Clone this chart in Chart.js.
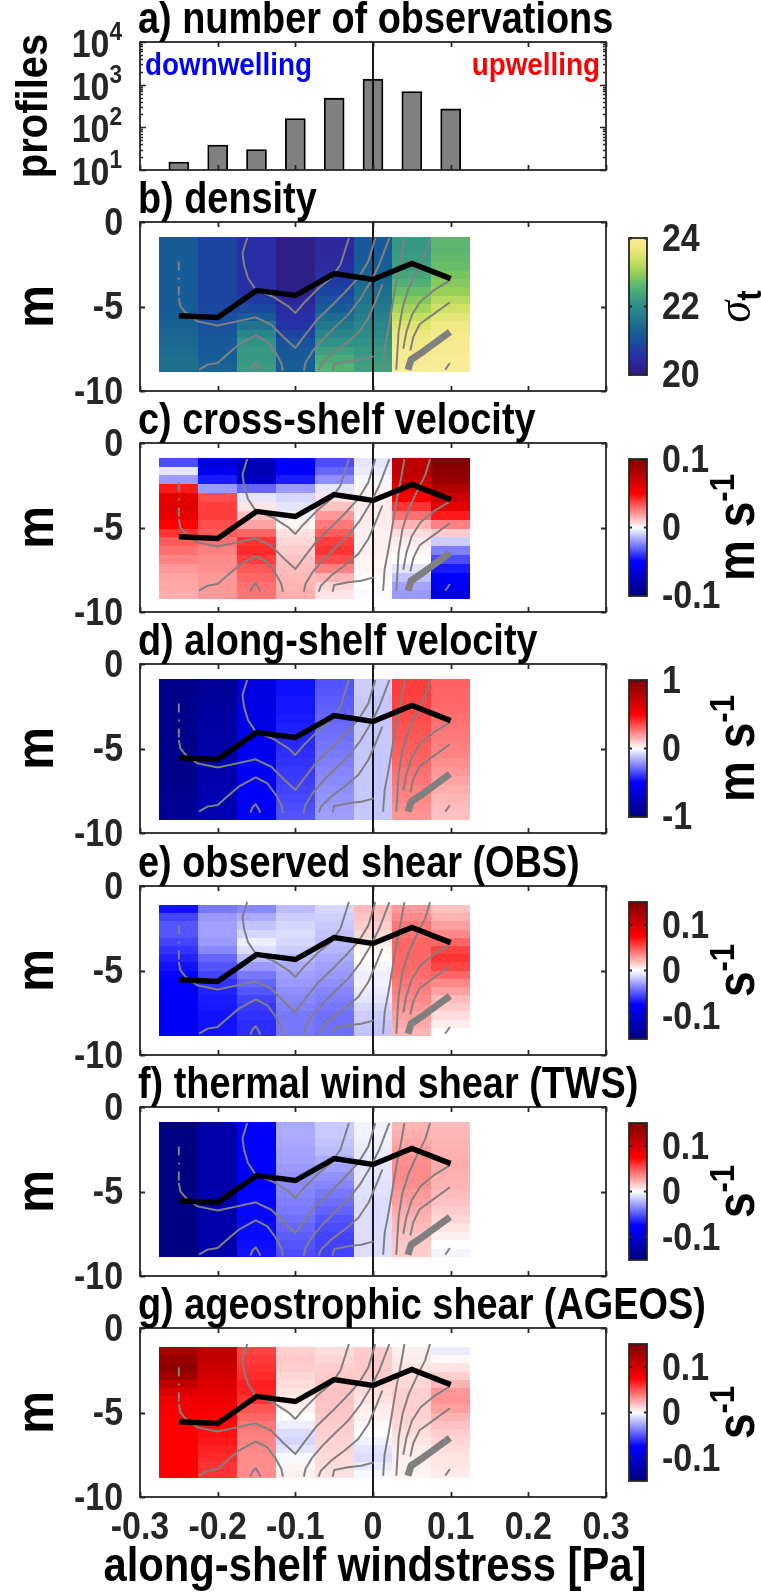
<!DOCTYPE html>
<html><head><meta charset="utf-8">
<script src="https://cdn.jsdelivr.net/npm/chart.js@4.4.1/dist/chart.umd.min.js"></script>
<style>html,body{margin:0;padding:0;background:#fff}#wrap{position:relative;width:761px;height:1593px;overflow:hidden;background:#fff}canvas{position:absolute;left:0}</style>
</head><body><div id="wrap"></div>
<script>
// ---------------- data ----------------
const windBins = [-0.25,-0.2,-0.15,-0.1,-0.05,0,0.05,0.1];
const binHalfWidth = 0.025;
const xTickValues = [-0.3,-0.2,-0.1,0,0.1,0.2,0.3];
const xTickLabels = ['-0.3','-0.2','-0.1','0','0.1','0.2','0.3'];
const depthTickValues = [0,-5,-10];
const depthTickLabels = ['0','-5','-10'];
const profileCounts = [15.4,38.6,30,160,482,1346,689,270];
const logTickValues = [10,100,1000,10000];
const logTickExponents = ['1','2','3','4'];
const mixedLayerDepth = [-5.55,-5.65,-4.05,-4.35,-3.05,-3.4,-2.45,-3.35];

// isopycnal contours [x, depth]
const isoA = [[-0.162,-0.95],[-0.168,-1.83],[-0.166,-2.53],[-0.161,-3.31],[-0.151,-4.0],[-0.127,-4.46],[-0.109,-4.99],[-0.1,-5.38],[-0.089,-4.79],[-0.072,-4.0],[-0.054,-3.31],[-0.042,-2.53],[-0.031,-0.95]];
const isoBdash = [[-0.25,-2.33],[-0.25,-4.5]];
const isoB = [[-0.25,-4.5],[-0.248,-4.99],[-0.241,-5.38],[-0.226,-5.88],[-0.2,-6.13],[-0.175,-5.88],[-0.151,-5.64],[-0.131,-6.08],[-0.114,-6.86],[-0.1,-7.46],[-0.087,-6.67],[-0.072,-5.78],[-0.054,-4.99],[-0.037,-4.2],[-0.019,-3.31],[-0.006,-2.33],[0.003,-0.95]];
const isoC = [[-0.224,-8.74],[-0.213,-8.44],[-0.2,-8.34],[-0.188,-7.85],[-0.173,-7.26],[-0.151,-6.71],[-0.136,-7.06],[-0.125,-7.75],[-0.118,-8.34],[-0.116,-8.8]];
const isoD = [[-0.158,-8.8],[-0.155,-8.48],[-0.151,-8.3],[-0.147,-8.6],[-0.145,-8.8]];
const isoE = [[-0.089,-8.8],[-0.087,-8.34],[-0.078,-7.65],[-0.065,-6.96],[-0.05,-6.27],[-0.032,-5.48],[-0.017,-4.6],[-0.004,-3.61],[0.008,-2.53],[0.021,-0.95]];
const isoF = [[-0.07,-8.8],[-0.067,-8.44],[-0.054,-7.85],[-0.037,-7.26],[-0.019,-6.57],[-0.006,-5.68],[0.005,-4.5],[0.012,-3.7]];
const isoG = [[-0.052,-8.8],[-0.05,-8.4],[-0.032,-8.24],[-0.015,-8.15],[0.001,-7.95]];
const isoR1 = [[0.0405,-0.95],[0.036,-2.13],[0.03,-3.51],[0.025,-4.89],[0.02,-6.27],[0.015,-7.46],[0.013,-8.74]];
const isoR2 = [[0.0735,-0.95],[0.067,-1.93],[0.056,-2.92],[0.046,-3.91],[0.038,-5.09],[0.033,-6.47],[0.03,-8.74]];
const isoR3 = [[0.099,-3.45],[0.078,-4.05],[0.061,-4.7],[0.05,-5.5],[0.043,-6.5],[0.039,-7.5]];
const isoR4 = [[0.099,-4.75],[0.078,-5.45],[0.06,-6.05],[0.052,-6.8],[0.048,-7.6]];
const isoS = [[0.093,-8.74],[0.099,-8.34]];
const thickIso = [[0.045,-8.74],[0.049,-8.15],[0.065,-7.65],[0.099,-6.51]];

// gridded fields: one array per wind bin, top row first
const densityCols = [
 [21.2,21.2,21.2,21.2,21.2,21.2,21.2,21.2,21.2,21.25,21.3,21.35,21.4,21.45,21.5,21.5],
 [20.85,20.85,20.85,20.85,20.85,20.85,20.85,20.85,20.9,20.95,21.0,21.1,21.15,21.2,21.25,21.3],
 [20.5,20.5,20.5,20.5,20.5,20.5,20.5,20.7,20.9,21.2,21.6,21.9,22.1,22.2,22.2,22.25],
 [20.1,20.1,20.1,20.1,20.1,20.1,20.2,20.35,20.45,20.5,20.6,20.85,21.05,21.15,21.2,21.25],
 [20.4,20.4,20.4,20.45,20.55,20.7,20.85,21.0,21.2,21.45,21.7,21.9,22.1,22.3,22.45,22.55],
 [21.15,21.15,21.2,21.25,21.3,21.4,21.5,21.6,21.7,21.8,21.9,22.0,22.1,22.2,22.25,22.3],
 [22.2,22.2,22.25,22.3,22.4,22.5,22.7,22.9,23.1,23.3,23.5,23.7,23.8,23.9,23.95,24.0],
 [22.6,22.6,22.65,22.7,22.8,22.9,23.0,23.2,23.4,23.6,23.75,23.85,23.9,23.95,24.0,24.0]
];
const crossShelfCols = [
 [-0.035,-0.005,-0.02,0.045,0.06,0.062,0.058,0.05,0.04,0.032,0.028,0.024,0.02,0.018,0.017,0.016],
 [-0.065,-0.055,-0.045,-0.02,0.035,0.038,0.038,0.035,0.032,0.028,0.025,0.023,0.022,0.02,0.02,0.02],
 [-0.08,-0.078,-0.072,-0.03,-0.005,0.005,0.012,0.018,0.03,0.04,0.042,0.038,0.033,0.03,0.028,0.027],
 [-0.05,-0.05,-0.045,-0.02,-0.008,-0.005,-0.003,0.002,0.006,0.008,0.01,0.012,0.013,0.014,0.015,0.016],
 [-0.035,-0.03,-0.022,-0.005,0.005,0.012,0.02,0.026,0.032,0.038,0.04,0.035,0.025,0.015,0.008,0.005],
 [-0.005,-0.004,-0.002,0.002,0.003,0.004,0.004,0.004,0.003,0.003,0.003,0.002,0.002,0.001,0.0,-0.001],
 [0.076,0.075,0.072,0.062,0.05,0.04,0.028,0.015,0.007,0.004,0.002,0.0,-0.005,-0.012,-0.018,-0.02],
 [0.098,0.095,0.09,0.08,0.07,0.06,0.045,0.025,0.01,-0.01,-0.025,-0.035,-0.045,-0.05,-0.055,-0.06]
];
const alongShelfCols = [
 [-0.95,-0.95,-0.95,-0.95,-0.95,-0.95,-0.95,-0.95,-0.95,-0.95,-0.95,-0.95,-0.93,-0.92,-0.91,-0.9],
 [-0.9,-0.9,-0.89,-0.88,-0.87,-0.86,-0.85,-0.85,-0.84,-0.83,-0.82,-0.82,-0.81,-0.8,-0.8,-0.8],
 [-0.62,-0.62,-0.61,-0.6,-0.6,-0.59,-0.58,-0.57,-0.56,-0.55,-0.54,-0.53,-0.52,-0.51,-0.5,-0.5],
 [-0.47,-0.47,-0.46,-0.46,-0.45,-0.44,-0.43,-0.42,-0.41,-0.4,-0.39,-0.38,-0.37,-0.36,-0.35,-0.34],
 [-0.34,-0.33,-0.32,-0.31,-0.3,-0.29,-0.28,-0.27,-0.26,-0.25,-0.24,-0.23,-0.22,-0.21,-0.2,-0.19],
 [-0.1,-0.1,-0.11,-0.11,-0.11,-0.11,-0.11,-0.11,-0.11,-0.11,-0.11,-0.11,-0.11,-0.11,-0.11,-0.11],
 [0.38,0.38,0.37,0.36,0.35,0.34,0.33,0.32,0.31,0.3,0.28,0.27,0.25,0.24,0.22,0.21],
 [0.31,0.3,0.3,0.29,0.28,0.27,0.26,0.25,0.24,0.22,0.2,0.18,0.16,0.14,0.13,0.12]
];
const obsShearCols = [
 [-0.07,-0.055,-0.05,-0.05,-0.055,-0.06,-0.065,-0.07,-0.074,-0.076,-0.078,-0.078,-0.079,-0.08,-0.08,-0.08],
 [-0.04,-0.03,-0.028,-0.028,-0.03,-0.035,-0.045,-0.05,-0.055,-0.06,-0.065,-0.067,-0.068,-0.07,-0.07,-0.07],
 [-0.035,-0.025,-0.018,-0.012,-0.005,-0.01,-0.02,-0.03,-0.04,-0.045,-0.05,-0.055,-0.058,-0.06,-0.062,-0.062],
 [-0.02,-0.015,-0.012,-0.01,-0.012,-0.015,-0.02,-0.025,-0.028,-0.03,-0.033,-0.035,-0.037,-0.04,-0.04,-0.04],
 [-0.012,-0.014,-0.016,-0.018,-0.02,-0.022,-0.025,-0.028,-0.03,-0.033,-0.036,-0.038,-0.04,-0.042,-0.042,-0.042],
 [0.02,0.018,0.015,0.012,0.006,0.003,0.0,-0.003,-0.005,-0.004,-0.006,-0.008,-0.012,-0.015,-0.017,-0.018],
 [0.03,0.035,0.04,0.042,0.045,0.045,0.045,0.044,0.043,0.04,0.038,0.035,0.032,0.028,0.025,0.022],
 [0.018,0.022,0.028,0.035,0.045,0.055,0.06,0.055,0.045,0.035,0.028,0.02,0.015,0.01,0.005,null]
];
const twsShearCols = [
 [-0.148,-0.148,-0.148,-0.148,-0.148,-0.148,-0.148,-0.148,-0.148,-0.148,-0.148,-0.148,-0.148,-0.148,-0.148,-0.148],
 [-0.125,-0.125,-0.125,-0.125,-0.125,-0.125,-0.125,-0.125,-0.125,-0.125,-0.125,-0.125,-0.125,-0.125,-0.125,-0.125],
 [-0.078,-0.078,-0.077,-0.077,-0.076,-0.076,-0.075,-0.075,-0.074,-0.074,-0.073,-0.073,-0.072,-0.072,-0.071,-0.07],
 [-0.025,-0.025,-0.026,-0.027,-0.028,-0.03,-0.032,-0.034,-0.036,-0.038,-0.04,-0.042,-0.045,-0.048,-0.05,-0.052],
 [-0.016,-0.016,-0.018,-0.02,-0.024,-0.028,-0.032,-0.036,-0.04,-0.043,-0.046,-0.05,-0.053,-0.055,-0.056,-0.056],
 [-0.004,-0.004,-0.005,-0.006,-0.007,-0.008,-0.008,-0.009,-0.009,-0.01,-0.01,-0.01,-0.01,-0.01,-0.01,-0.01],
 [0.022,0.024,0.026,0.03,0.033,0.034,0.034,0.033,0.03,0.028,0.025,0.022,0.02,0.018,0.016,0.015],
 [0.02,0.021,0.022,0.023,0.024,0.024,0.023,0.022,0.02,0.018,0.015,0.012,0.008,0.004,0.0,-0.003]
];
const ageosShearCols = [
 [0.125,0.135,0.14,0.13,0.11,0.095,0.085,0.08,0.078,0.077,0.076,0.075,0.075,0.075,0.075,0.075],
 [0.11,0.11,0.105,0.1,0.095,0.09,0.085,0.08,0.076,0.072,0.07,0.068,0.065,0.063,0.06,0.06],
 [0.055,0.058,0.06,0.062,0.066,0.065,0.06,0.05,0.045,0.04,0.038,0.036,0.035,0.034,0.033,0.033],
 [0.014,0.016,0.015,0.012,0.01,0.008,0.006,0.004,0.0,-0.005,-0.01,-0.012,-0.008,-0.002,0.003,0.005],
 [0.01,0.012,0.014,0.016,0.017,0.018,0.018,0.017,0.016,0.015,0.014,0.013,0.012,0.011,0.01,0.009],
 [0.015,0.016,0.016,0.015,0.012,0.01,0.008,0.006,0.004,0.002,0.0,-0.004,-0.008,-0.01,-0.006,-0.002],
 [0.005,0.006,0.008,0.01,0.012,0.014,0.014,0.014,0.013,0.012,0.01,0.008,0.006,0.005,0.004,0.003],
 [-0.006,0.002,0.008,0.014,0.022,0.03,0.032,0.028,0.022,0.018,0.014,0.012,0.01,0.008,0.007,0.006]
];

// ---------------- styling ----------------
const SXH = 0.87;   // horizontal squeeze for horizontal text
const SXR = 1.12;   // thickness scale for rotated text
const FAM = "'Liberation Sans', Arial, Helvetica, sans-serif";
const AX = '#262626';
const PLOT_L = 140, PLOT_R = 606, W = 761, H = 1593;
const PARULA = [[0,[43,30,125]],[1/16,[46,32,145]],[2/16,[42,46,166]],[3/16,[30,62,162]],[4/16,[26,80,158]],[5/16,[22,95,150]],[6/16,[30,110,142]],[7/16,[38,124,140]],[8/16,[45,140,138]],[9/16,[58,156,130]],[10/16,[80,175,118]],[11/16,[110,192,100]],[12/16,[150,208,88]],[13/16,[190,220,95]],[14/16,[220,228,110]],[15/16,[240,232,130]],[1,[248,236,150]]];
const REDBLUE = [[0,[0,0,127]],[0.25,[0,0,255]],[0.5,[255,255,255]],[0.75,[255,0,0]],[1,[127,0,0]]];
function cmap(stops,t){
  t=Math.max(0,Math.min(1,t));
  for(let i=1;i<stops.length;i++){ if(t<=stops[i][0]){const a=stops[i-1],b=stops[i];const f=(t-a[0])/(b[0]-a[0]);
    const c=[0,1,2].map(k=>Math.round(a[1][k]+(b[1][k]-a[1][k])*f));return 'rgb('+c.join(',')+')';}}
  const c=stops[stops.length-1][1];return 'rgb('+c.join(',')+')';
}
function txt(ctx,s,x,y,font,color,align,base,rot){
  ctx.save();ctx.translate(x,y);ctx.scale(rot?SXR:SXH,1);if(rot)ctx.rotate(rot);
  ctx.font=font;ctx.fillStyle=color||'#000';ctx.textAlign=align||'left';ctx.textBaseline=base||'alphabetic';
  ctx.fillText(s,0,0);ctx.restore();
}
// base text + raised/lowered part, aligned as a block
function txt2(ctx,s1,s2,x,y,f1,f2,shift,color,align,rot){
  ctx.save();ctx.translate(x,y);ctx.scale(rot?SXR:SXH,1);if(rot)ctx.rotate(rot);
  ctx.fillStyle=color||'#000';ctx.textBaseline='alphabetic';ctx.textAlign='left';
  ctx.font=f1;const w1=ctx.measureText(s1).width;ctx.font=f2;const w2=ctx.measureText(s2).width;
  const w=w1+w2;let x0=align==='right'?-w:(align==='center'?-w/2:0);
  ctx.font=f1;ctx.fillText(s1,x0,0);ctx.font=f2;ctx.fillText(s2,x0+w1,shift);ctx.restore();
}
const TICKF = 'bold 39px '+FAM;
const TITLEF = 'bold 43.5px '+FAM;

const panels = [
 {key:'b',title:'b) density',grid:densityCols,dTop:-0.875,dBot:-8.875,stops:PARULA,cmin:20,cmax:24,cbTicks:[24,22,20],cbLabels:['24','22','20'],unit:'sigma'},
 {key:'c',title:'c) cross-shelf velocity',grid:crossShelfCols,dTop:-0.875,dBot:-9.25,stops:REDBLUE,cmin:-0.1,cmax:0.1,cbTicks:[0.1,0,-0.1],cbLabels:['0.1','0','-0.1'],unit:'ms'},
 {key:'d',title:'d) along-shelf velocity',grid:alongShelfCols,dTop:-0.875,dBot:-9.25,stops:REDBLUE,cmin:-1,cmax:1,cbTicks:[1,0,-1],cbLabels:['1','0','-1'],unit:'ms'},
 {key:'e',title:'e) observed shear (OBS)',grid:obsShearCols,dTop:-1.125,dBot:-8.875,stops:REDBLUE,cmin:-0.15,cmax:0.15,cbTicks:[0.1,0,-0.1],cbLabels:['0.1','0','-0.1'],unit:'s'},
 {key:'f',title:'f) thermal wind shear (TWS)',grid:twsShearCols,dTop:-0.875,dBot:-8.875,stops:REDBLUE,cmin:-0.15,cmax:0.15,cbTicks:[0.1,0,-0.1],cbLabels:['0.1','0','-0.1'],unit:'s'},
 {key:'g',title:'g) ageostrophic shear (AGEOS)',grid:ageosShearCols,dTop:-1.125,dBot:-8.875,stops:REDBLUE,cmin:-0.15,cmax:0.15,cbTicks:[0.1,0,-0.1],cbLabels:['0.1','0','-0.1'],unit:'s',last:true}
];
const boxTops = [222,443,664,886,1107,1328];
const BOX_H = 169;

const wrap=document.getElementById('wrap');
function mkCanvas(top,height){const c=document.createElement('canvas');c.width=W;c.height=height;c.style.top=top+'px';c.style.width=W+'px';c.style.height=height+'px';wrap.appendChild(c);return c;}

function drawFrame(ctx,ca,xs){
  ctx.save();ctx.strokeStyle=AX;ctx.lineWidth=1.8;
  ctx.beginPath();
  xTickValues.forEach(v=>{const px=Math.round(xs.getPixelForValue(v))+0.5;
    ctx.moveTo(px,ca.top);ctx.lineTo(px,ca.top+5);ctx.moveTo(px,ca.bottom);ctx.lineTo(px,ca.bottom-5);});
  ctx.stroke();
  ctx.strokeRect(ca.left,ca.top,ca.right-ca.left,ca.bottom-ca.top);
  ctx.restore();
}
function drawZero(ctx,ca,xs){
  const px=xs.getPixelForValue(0);
  ctx.save();ctx.strokeStyle='#000';ctx.lineWidth=1.8;ctx.beginPath();ctx.moveTo(px,ca.top);ctx.lineTo(px,ca.bottom);ctx.stroke();ctx.restore();
}

// ---------- panel a ----------
(function(){
  const boxH=128, padTop=42, padBot=30;
  const cv=mkCanvas(0,padTop+boxH+padBot);
  const plug={id:'pa',
    afterDatasetsDraw(chart){
      const ctx=chart.ctx,ca=chart.chartArea,xs=chart.scales.x,ys=chart.scales.y;
      drawZero(ctx,ca,xs);
      ctx.save();ctx.strokeStyle=AX;ctx.lineWidth=1.6;ctx.beginPath();
      for(let k=1;k<4;k++){for(let m=2;m<10;m++){const py=Math.round(ys.getPixelForValue(m*Math.pow(10,k)))+0.5;
        ctx.moveTo(ca.left,py);ctx.lineTo(ca.left+3,py);ctx.moveTo(ca.right,py);ctx.lineTo(ca.right-3,py);}}
      logTickValues.forEach(v=>{const py=Math.round(ys.getPixelForValue(v))+0.5;ctx.moveTo(ca.left,py);ctx.lineTo(ca.left+6,py);ctx.moveTo(ca.right,py);ctx.lineTo(ca.right-6,py);});
      ctx.stroke();ctx.restore();
      drawFrame(ctx,ca,xs);
      logTickValues.forEach((v,i)=>{const py=ys.getPixelForValue(v);
        txt2(ctx,'10',logTickExponents[i],122,py+15,'bold 39px '+FAM,'bold 26px '+FAM,-17,AX,'right');});
      txt(ctx,'a) number of observations',138,33,TITLEF,'#000','left');
      txt(ctx,'profiles',35,ca.top+(ca.bottom-ca.top)/2,'bold 40px '+FAM,'#000','center','middle',-Math.PI/2);
      txt(ctx,'downwelling',145,75,'bold 32px '+FAM,'#0000ff','left');
      txt(ctx,'upwelling',600,75,'bold 32px '+FAM,'#ff0000','right');
    }};
  new Chart(cv,{type:'bar',
    data:{datasets:[{data:windBins.map((x,i)=>({x:x,y:profileCounts[i]})),backgroundColor:'rgb(128,128,128)',borderColor:'#000',borderWidth:1.8,barThickness:20,borderSkipped:'bottom'}]},
    options:{responsive:false,animation:false,events:[],
      layout:{padding:{left:PLOT_L,right:W-PLOT_R,top:padTop,bottom:padBot}},
      plugins:{legend:{display:false},tooltip:{enabled:false},title:{display:false}},
      scales:{x:{type:'linear',min:-0.3,max:0.3,offset:false,display:false},
              y:{type:'logarithmic',min:10,max:10000,display:false}}},
    plugins:[plug]});
})();

// ---------- panels b-g ----------
function lineDs(pts,color,width,order,dash){
  return {data:pts.map(p=>({x:p[0],y:p[1]})),showLine:true,borderColor:color,borderWidth:width,pointRadius:0,fill:false,order:order,borderDash:dash||[],borderCapStyle:'butt',borderJoinStyle:'round',tension:0};
}
panels.forEach((cfg,pi)=>{
  const boxTop=boxTops[pi];
  const padTop=70, padBot=cfg.last?(H-(boxTop+BOX_H)):30;
  const cvTop=boxTop-padTop;
  const cv=mkCanvas(cvTop,padTop+BOX_H+padBot);
  const plug={id:'p'+cfg.key,
    beforeDatasetsDraw(chart){
      const ctx=chart.ctx,ca=chart.chartArea,xs=chart.scales.x,ys=chart.scales.y;
      cfg.grid.forEach((col,j)=>{
        const c=windBins[j];
        const x0=Math.round(xs.getPixelForValue(c-binHalfWidth)),x1=Math.round(xs.getPixelForValue(c+binHalfWidth));
        const n=col.length,h=(cfg.dTop-cfg.dBot)/n;
        col.forEach((v,i)=>{
          if(v===null)return;
          const y0=Math.round(ys.getPixelForValue(cfg.dTop-i*h)),y1=Math.round(ys.getPixelForValue(cfg.dTop-(i+1)*h));
          ctx.fillStyle=cmap(cfg.stops,(v-cfg.cmin)/(cfg.cmax-cfg.cmin));
          ctx.fillRect(x0,y0,x1-x0,y1-y0);
        });
      });
      drawZero(ctx,ca,xs);
    },
    afterDatasetsDraw(chart){
      const ctx=chart.ctx,ca=chart.chartArea,xs=chart.scales.x,ys=chart.scales.y;
      ctx.save();ctx.strokeStyle=AX;ctx.lineWidth=1.8;ctx.beginPath();
      depthTickValues.forEach(v=>{const py=Math.round(ys.getPixelForValue(v))+0.5;ctx.moveTo(ca.left,py);ctx.lineTo(ca.left+5,py);ctx.moveTo(ca.right,py);ctx.lineTo(ca.right-5,py);});
      ctx.stroke();ctx.restore();
      drawFrame(ctx,ca,xs);
      depthTickValues.forEach((v,i)=>{txt(ctx,depthTickLabels[i],123,ys.getPixelForValue(v)+2,TICKF,AX,'right','middle');});
      txt(ctx,cfg.title,138,ca.top-9,TITLEF,'#000','left');
      const mid=(ca.top+ca.bottom)/2;
      txt(ctx,'m',38,mid,'bold 48px '+FAM,'#000','center','middle',-Math.PI/2);
      // colorbar
      const cbL=629,cbW=18,cbT=ca.top+16.5,cbB=ca.bottom-16.5;
      for(let py=Math.floor(cbT);py<Math.ceil(cbB);py++){
        const t=(cbB-(py+0.5))/(cbB-cbT);
        ctx.fillStyle=cmap(cfg.stops,t);ctx.fillRect(cbL,py,cbW,1);
      }
      ctx.save();ctx.strokeStyle=AX;ctx.lineWidth=1.8;ctx.strokeRect(cbL,Math.floor(cbT),cbW,Math.ceil(cbB)-Math.floor(cbT));
      ctx.beginPath();
      cfg.cbTicks.forEach(v=>{const py=cbB-(v-cfg.cmin)/(cfg.cmax-cfg.cmin)*(cbB-cbT);ctx.moveTo(cbL,py);ctx.lineTo(cbL+3,py);ctx.moveTo(cbL+cbW,py);ctx.lineTo(cbL+cbW-3,py);});
      ctx.stroke();ctx.restore();
      cfg.cbTicks.forEach((v,i)=>{const py=cbB-(v-cfg.cmin)/(cfg.cmax-cfg.cmin)*(cbB-cbT);
        txt(ctx,cfg.cbLabels[i],662,py+2,TICKF,AX,'left','middle');});
      if(cfg.unit==='sigma'){
        txt2(ctx,'\u03c3','t',750,mid,'italic 44px "Liberation Serif", "DejaVu Serif", serif','bold 31px '+FAM,10,'#000','center',-Math.PI/2);
      }else if(cfg.unit==='ms'){
        txt2(ctx,'m s','-1',754,mid,'bold 46px '+FAM,'bold 31px '+FAM,-18,'#000','center',-Math.PI/2);
      }else{
        txt2(ctx,'s','-1',754,mid,'bold 46px '+FAM,'bold 31px '+FAM,-18,'#000','center',-Math.PI/2);
      }
      if(cfg.last){
        xTickValues.forEach((v,i)=>{txt(ctx,xTickLabels[i],xs.getPixelForValue(v),ca.bottom+42,TICKF,AX,'center');});
        txt(ctx,'along-shelf windstress [Pa]',(ca.left+ca.right)/2+2,ca.bottom+84,'bold 48px '+FAM,'#000','center');
      }
    }};
  const gray='rgb(128,128,128)';
  const ds=[isoA,isoB,isoC,isoD,isoE,isoF,isoG,isoR1,isoR2,isoR3,isoR4,isoS].map(p=>lineDs(p,gray,2,3));
  ds.push(lineDs(isoBdash,gray,2,3,[9,7,2,7]));
  ds.push(lineDs(thickIso,gray,7,2));
  ds.push(Object.assign(lineDs(windBins.map((x,i)=>[x,mixedLayerDepth[i]]),'#000',5.4,1),{borderJoinStyle:'miter'}));
  new Chart(cv,{type:'scatter',data:{datasets:ds},
    options:{responsive:false,animation:false,events:[],
      layout:{padding:{left:PLOT_L,right:W-PLOT_R,top:padTop,bottom:padBot}},
      plugins:{legend:{display:false},tooltip:{enabled:false},title:{display:false}},
      scales:{x:{type:'linear',min:-0.3,max:0.3,display:false},y:{type:'linear',min:-10,max:0,display:false}}},
    plugins:[plug]});
});
</script></body></html>
